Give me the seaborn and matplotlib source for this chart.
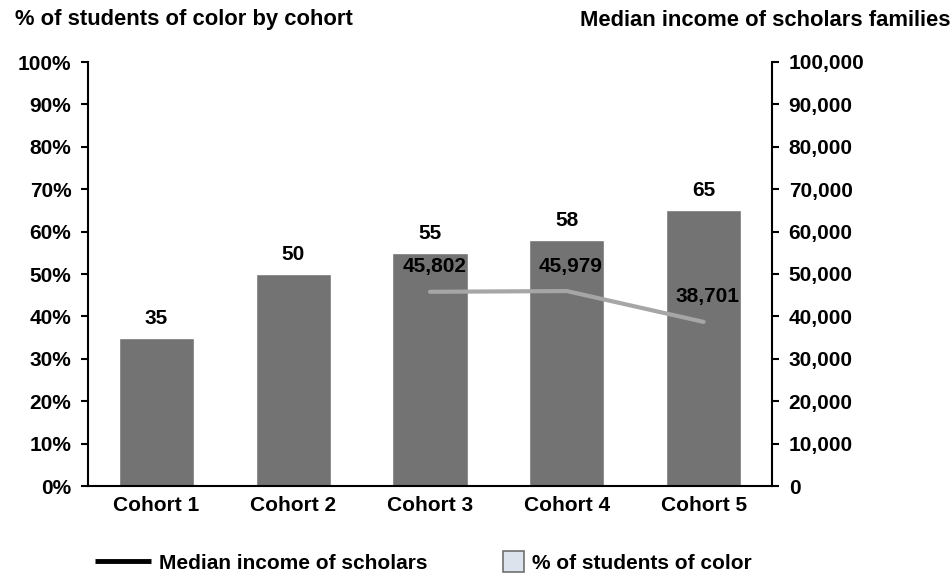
import matplotlib
matplotlib.use("Agg")
import matplotlib.pyplot as plt
from matplotlib.lines import Line2D
from matplotlib.patches import Patch, Rectangle
from matplotlib.legend_handler import HandlerPatch
from matplotlib.ticker import FuncFormatter
import seaborn as sns
import pandas as pd

cohorts = ["Cohort 1", "Cohort 2", "Cohort 3", "Cohort 4", "Cohort 5"]
pct_students_of_color = [35, 50, 55, 58, 65]
income_cohorts = ["Cohort 3", "Cohort 4", "Cohort 5"]
median_income = [45802, 45979, 38701]

sns.set_theme(style="white")
plt.rcParams["font.family"] = ["Liberation Sans", "DejaVu Sans"]
plt.rcParams["font.weight"] = "bold"
plt.rcParams["text.color"] = "black"

FS = 15

fig = plt.figure(figsize=(9.52, 5.74), dpi=100)
ax = fig.add_axes([88 / 952, 1 - 486 / 574, (772 - 88) / 952, (486 - 62) / 574])

bars_df = pd.DataFrame({"cohort": cohorts, "pct": pct_students_of_color})
sns.barplot(data=bars_df, x="cohort", y="pct", color="#737373", saturation=1,
            width=0.55, ax=ax)
ax.set_ylim(0, 100)
ax.set_xlim(-0.5, 4.5)
ax.set_yticks(range(0, 101, 10))
ax.yaxis.set_major_formatter(FuncFormatter(lambda v, _: f"{int(v)}%"))
ax.set_xlabel("")
ax.set_ylabel("")

for i, v in enumerate(pct_students_of_color):
    ax.annotate(f"{v}", (i, v), xytext=(0, 14), textcoords="offset points",
                ha="center", va="center", fontsize=FS, fontweight="bold",
                color="black")

ax2 = ax.twinx()
pos = {c: i for i, c in enumerate(cohorts)}
line_df = pd.DataFrame({"x": [pos[c] for c in income_cohorts], "income": median_income})
sns.lineplot(data=line_df, x="x", y="income", color="#a6a6a6", linewidth=3.0,
             ax=ax2, solid_capstyle="round")
ax2.set_ylim(0, 100000)
ax2.set_yticks(range(0, 100001, 10000))
ax2.yaxis.set_major_formatter(FuncFormatter(lambda v, _: f"{int(v):,}"))
ax2.set_xlabel("")
ax2.set_ylabel("")
ax2.set_xlim(-0.5, 4.5)

for x, v in zip(line_df["x"], median_income):
    ax2.annotate(f"{v:,}", (x, v), xytext=(3, 18), textcoords="offset points",
                 ha="center", va="center", fontsize=FS, fontweight="bold",
                 color="black")

for a in (ax, ax2):
    for s in a.spines.values():
        s.set_visible(False)
    a.tick_params(axis="both", labelsize=FS, colors="black")
    for lbl in a.get_yticklabels() + a.get_xticklabels():
        lbl.set_fontweight("bold")

ax.spines["left"].set_visible(True)
ax.spines["bottom"].set_visible(True)
ax2.spines["right"].set_visible(True)
for s in (ax.spines["left"], ax.spines["bottom"], ax2.spines["right"]):
    s.set_color("black")
    s.set_linewidth(1.5)

ax.tick_params(axis="y", which="major", direction="out", length=5, width=1.5,
               left=True, pad=7)
ax.tick_params(axis="x", length=0, pad=7)
ax2.tick_params(axis="y", which="major", direction="out", length=5, width=1.5,
                right=True, pad=7)

fig.text(15 / 952, 1 - 20 / 574, "% of students of color by cohort",
         fontsize=15.8, fontweight="bold", ha="left", va="center", color="black")
fig.text(950 / 952, 1 - 20 / 574, "Median income of scholars families",
         fontsize=15.8, fontweight="bold", ha="right", va="center", color="black")


def square_patch(legend, orig_handle, xdescent, ydescent, width, height, fontsize):
    side = height * 1.4
    return Rectangle((width - side - xdescent, -ydescent + (height - side) / 2),
                     side, side)


handles = [Line2D([0], [0], color="black", linewidth=3.5, solid_capstyle="butt"),
           Patch(facecolor="#dde3ec", edgecolor="#6f6f6f", linewidth=1.2)]
labels = ["Median income of scholars", "% of students of color"]
leg = ax.legend(handles, labels, loc="center", bbox_to_anchor=(0.49, -0.182), ncol=2,
                frameon=False, prop={"size": FS, "weight": "bold"},
                handlelength=2.7, columnspacing=1.9, handletextpad=0.4,
                handler_map={Patch: HandlerPatch(patch_func=square_patch)})
for t in leg.get_texts():
    t.set_color("black")

fig.savefig("out.png", dpi=100)
